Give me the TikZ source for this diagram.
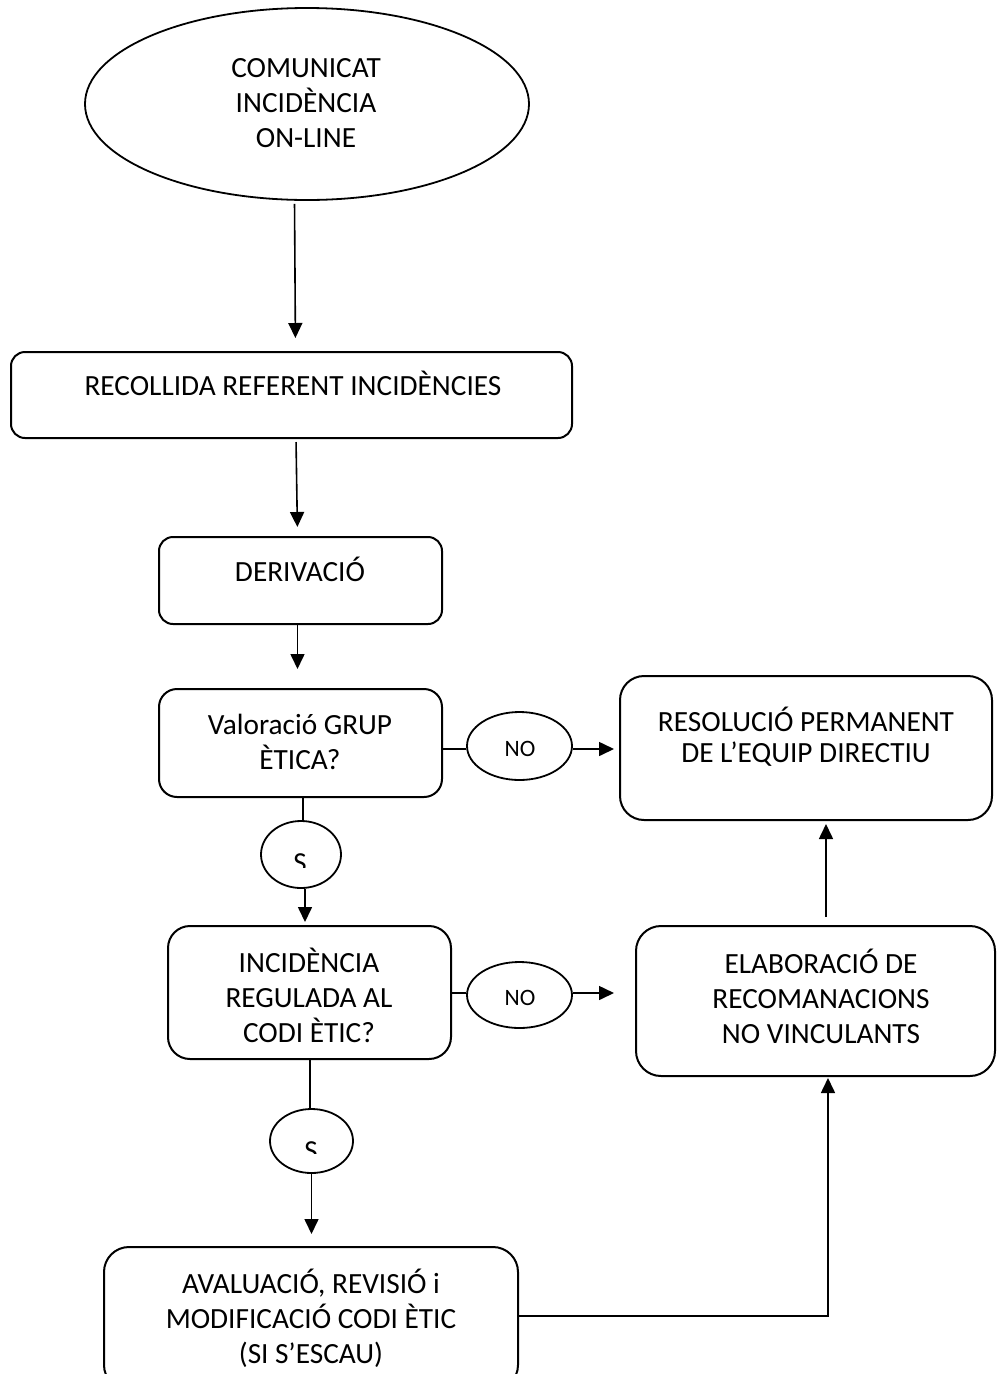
\documentclass[tikz,border=0pt]{standalone}
\usepackage{fontspec}
\setmainfont{Carlito}
\usetikzlibrary{arrows.meta,shapes.geometric}
\begin{document}
\begin{tikzpicture}[x=1pt,y=-1pt,
  box/.style={draw, line width=2pt, rounded corners=#1, inner sep=0pt},
  box/.default=15pt,
  oval/.style={draw, ellipse, line width=1.8pt, inner sep=0pt},
  txt/.style={anchor=base, inner sep=0pt, text width=480pt, align=flush center,
    font=\fontsize{29.3}{35}\selectfont},
  small/.style={anchor=base, inner sep=0pt, font=\fontsize{23.5}{28}\selectfont},
  sletter/.style={anchor=base, inner sep=0pt, font=\fontsize{29}{35}\selectfont},
  ln/.style={line width=1.6pt},
  arr/.style={line width=1.6pt, -{Triangle[length=15pt,width=14pt]}}
]
\useasboundingbox (0,0) rectangle (997,1374);
\clip (0,0) rectangle (997,1374);

% shapes
\node[oval, minimum width=444pt, minimum height=192pt] (ell) at (307,104) {};
\node[box=14pt, minimum width=561pt, minimum height=86pt] (box1) at (291.5,395) {};
\node[box=14pt, minimum width=283pt, minimum height=87pt] (box2) at (300.5,580.5) {};
\node[box=18pt, minimum width=283pt, minimum height=108pt] (box3) at (300.5,743) {};
\node[box=24pt, minimum width=372pt, minimum height=144pt] (box4) at (806,748) {};
\node[box=22pt, minimum width=283pt, minimum height=133pt] (box5) at (309.5,992.5) {};
\node[box=25pt, minimum width=359pt, minimum height=150pt] (box6) at (815.5,1001) {};
\node[box=25pt, minimum width=414pt, minimum height=143pt] (box7) at (311,1318.5) {};
\node[oval, minimum width=105pt, minimum height=68pt] (no1) at (519.5,746) {};
\node[oval, minimum width=105pt, minimum height=66pt] (no2) at (519.5,995) {};
\node[oval, minimum width=80pt, minimum height=67pt] (s1) at (301,854.5) {};
\node[oval, minimum width=83pt, minimum height=64pt] (s2) at (311.5,1141) {};

% texts
\node[txt] (t0) at (306,77) {COMUNICAT\\INCIDÈNCIA\\ON-LINE};
\node[txt] (t1) at (293,395) {RECOLLIDA REFERENT INCIDÈNCIES};
\node[txt] (t2) at (300,581) {DERIVACIÓ};
\node[txt] (t3) at (300,734) {Valoració GRUP\\ÈTICA?};
\node[txt] (t4) at (806,731) {RESOLUCIÓ PERMANENT\\[-4pt]DE L’EQUIP DIRECTIU};
\node[txt] (t5) at (309,972) {INCIDÈNCIA\\REGULADA AL\\CODI ÈTIC?};
\node[txt] (t6) at (821,973) {ELABORACIÓ DE\\RECOMANACIONS\\NO VINCULANTS};
\node[txt] (t7) at (311,1293) {AVALUACIÓ, REVISIÓ i\\MODIFICACIÓ CODI ÈTIC\\(SI S’ESCAU)};
\node[small] (n1) at (520,756.5) {NO};
\node[small] (n2) at (520,1005) {NO};
\begin{scope}
  \clip (250,840) rectangle (350,867);
  \node[sletter] (st1) at (300,872) {S};
\end{scope}
\begin{scope}
  \clip (260,1130) rectangle (360,1153);
  \node[sletter] (st2) at (311,1160) {S};
\end{scope}

% connectors
\draw[arr, shorten <=3pt, shorten >=13pt] ([xshift=3pt]box1.north |- ell.south) -- ([xshift=4pt]box1.north);
\draw[arr, shorten <=3pt, shorten >=9pt] ([xshift=-4.5pt]box2.north |- box1.south) -- ([xshift=-3pt]box2.north);
\draw[arr, shorten >=19pt] ([xshift=-3pt]box3.north |- box2.south) -- ([xshift=-3pt]box3.north);
\draw[ln] ([xshift=2pt]s1.north |- box3.south) -- ([xshift=2pt]s1.north);
\draw[arr, shorten >=3pt] ([xshift=4pt]s1.south) -- ([xshift=4pt]s1.south |- box5.north);
\draw[ln] ([xshift=-1.5pt]s2.north |- box5.south) -- ([xshift=-1.5pt]s2.north);
\draw[arr, shorten >=12pt] (s2.south) -- (s2.south |- box7.north);
\draw[ln] ([yshift=-3pt]box3.east |- no1.west) -- ([yshift=-3pt]no1.west);
\draw[arr, shorten >=5pt] ([yshift=-3pt]no1.east) -- ([yshift=-3pt]no1.east -| box4.west);
\draw[ln] ([yshift=2pt]box5.east |- no2.west) -- ([yshift=2pt]no2.west);
\draw[arr, shorten >=21pt] ([yshift=2pt]no2.east) -- ([yshift=2pt]no2.east -| box6.west);
\draw[arr, shorten <=8pt, shorten >=3pt] ([xshift=10.5pt]box6.north) -- ([xshift=10.5pt]box6.north |- box4.south);
\draw[arr, shorten >=1pt] ([yshift=2.5pt]box7.east) -| ([xshift=12.5pt]box6.south);
\end{tikzpicture}
\end{document}
